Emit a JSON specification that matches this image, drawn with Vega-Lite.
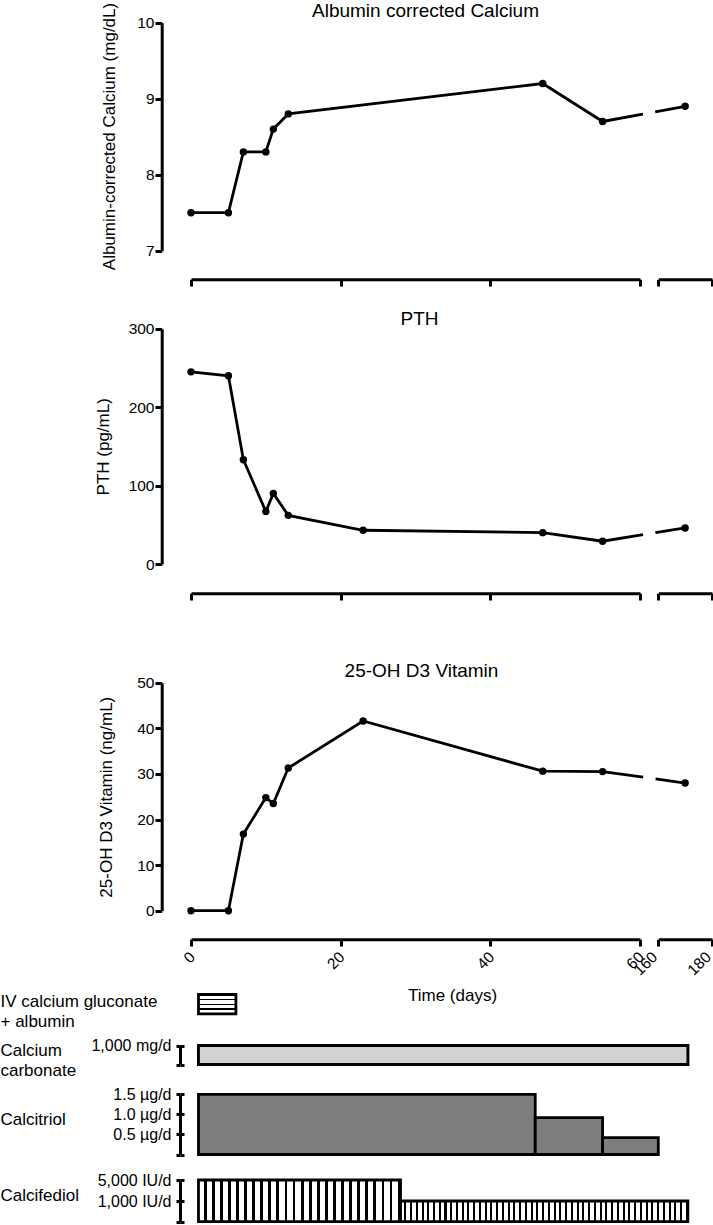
{
  "$schema": "https://vega.github.io/schema/vega-lite/v6.json",
  "width": 713,
  "height": 1225,
  "autosize": {"type": "none"},
  "padding": 0,
  "config": {
    "font": "Liberation Sans",
    "view": {"stroke": null},
    "axis": {
      "domainColor": "#000", "domainWidth": 3, "tickColor": "#000", "tickWidth": 3,
      "labelColor": "#000", "labelFontSize": 15.5, "titleColor": "#000", "titleFontWeight": "normal",
      "titleFontSize": 17, "grid": false, "labelOverlap": false, "labelFlush": false
    }
  },
  "datasets": {
    "ca": [
      {"day": 0, "value": 7.5}, {"day": 5, "value": 7.5}, {"day": 7, "value": 8.3}, {"day": 10, "value": 8.3},
      {"day": 11, "value": 8.6}, {"day": 13, "value": 8.8}, {"day": 47, "value": 9.2}, {"day": 55, "value": 8.7},
      {"day": 170, "value": 8.9}
    ],
    "pth": [
      {"day": 0, "value": 245}, {"day": 5, "value": 240}, {"day": 7, "value": 133}, {"day": 10, "value": 67},
      {"day": 11, "value": 90}, {"day": 13, "value": 62}, {"day": 23, "value": 43}, {"day": 47, "value": 40},
      {"day": 55, "value": 29}, {"day": 170, "value": 46}
    ],
    "vitd": [
      {"day": 0, "value": 0}, {"day": 5, "value": 0}, {"day": 7, "value": 16.8}, {"day": 10, "value": 24.8},
      {"day": 11, "value": 23.5}, {"day": 13, "value": 31.3}, {"day": 23, "value": 41.6}, {"day": 47, "value": 30.6},
      {"day": 55, "value": 30.5}, {"day": 170, "value": 28}
    ],
    "tx": [
      {"drug": "IV calcium gluconate + albumin", "dose": "", "start": 1, "end": 6, "level": 1},
      {"drug": "Calcium carbonate", "dose": "1,000 mg/d", "start": 1, "end": 171, "level": 1000},
      {"drug": "Calcitriol", "dose": "1.5 µg/d", "start": 1, "end": 46, "level": 1.5},
      {"drug": "Calcitriol", "dose": "1.0 µg/d", "start": 46, "end": 55, "level": 0.92},
      {"drug": "Calcitriol", "dose": "0.5 µg/d", "start": 55, "end": 160, "level": 0.42},
      {"drug": "Calcifediol", "dose": "5,000 IU/d", "start": 1, "end": 28, "level": 5000},
      {"drug": "Calcifediol", "dose": "1,000 IU/d", "start": 28, "end": 171, "level": 1000}
    ]
  },
  "layer": [
    {
      "data": {"name": "ca"},
      "encoding": {
        "y": {"field": "value", "type": "quantitative",
          "scale": {"domain": [7, 10], "range": [250.7, 22.7], "zero": false, "nice": false},
          "axis": {"orient": "left", "offset": -161.7, "values": [7, 8, 9, 10], "tickSize": 6.7, "labelPadding": 1,
            "title": "Albumin-corrected Calcium (mg/dL)", "titleAngle": -90, "titleX": -52.7, "titleY": 136,
            "titleAlign": "center", "titleBaseline": "middle"}}
      },
      "layer": [
        {"transform": [{"filter": "datum.day <= 55"}],
          "mark": {"type": "line", "color": "#000", "strokeWidth": 2.8},
          "encoding": {"x": {"field": "day", "type": "quantitative", "scale": {"domain": [0, 60, 160, 180], "range": [191, 640, 658.3, 712], "zero": false, "nice": false}, "axis": null}}},
        {"transform": [{"filter": "datum.day >= 55"}],
          "mark": {"type": "line", "color": "#000", "strokeWidth": 2.8, "strokeDash": [41, 12.5]},
          "encoding": {"x": {"field": "day", "type": "quantitative", "scale": {"domain": [0, 60, 160, 180], "range": [191, 640, 658.3, 712], "zero": false, "nice": false}, "axis": null}}},
        {"transform": [{"filter": "datum.day <= 60"}],
          "mark": {"type": "point", "filled": true, "color": "#000", "size": 55, "opacity": 1},
          "encoding": {"x": {"field": "day", "type": "quantitative", "scale": {"domain": [0, 60], "range": [191, 640], "zero": false, "nice": false},
            "axis": {"orient": "bottom", "offset": -945.7, "values": [0, 20, 40, 60], "tickSize": 6.7, "labels": false, "title": null}}}},
        {"transform": [{"filter": "datum.day >= 160"}],
          "mark": {"type": "point", "filled": true, "color": "#000", "size": 55, "opacity": 1},
          "encoding": {"x": {"field": "day", "type": "quantitative", "scale": {"domain": [160, 180], "range": [658.3, 712], "zero": false, "nice": false},
            "axis": {"orient": "bottom", "offset": -945.7, "values": [160, 180], "tickSize": 6.7, "labels": false,
              "title": "Albumin corrected Calcium", "titleX": 425, "titleY": -268.5, "titleFontSize": 19, "titleAlign": "center", "titleBaseline": "middle"}}}}
      ],
      "resolve": {"scale": {"x": "independent"}}
    },
    {
      "data": {"name": "pth"},
      "encoding": {
        "y": {"field": "value", "type": "quantitative",
          "scale": {"domain": [0, 300], "range": [564, 328.7], "zero": false, "nice": false},
          "axis": {"orient": "left", "offset": -161.7, "values": [0, 100, 200, 300], "tickSize": 6.7, "labelPadding": 1,
            "title": "PTH (pg/mL)", "titleAngle": -90, "titleX": -58.7, "titleY": 446.3,
            "titleAlign": "center", "titleBaseline": "middle"}}
      },
      "layer": [
        {"transform": [{"filter": "datum.day <= 55"}],
          "mark": {"type": "line", "color": "#000", "strokeWidth": 2.8},
          "encoding": {"x": {"field": "day", "type": "quantitative", "scale": {"domain": [0, 60, 160, 180], "range": [191, 640, 658.3, 712], "zero": false, "nice": false}, "axis": null}}},
        {"transform": [{"filter": "datum.day >= 55"}],
          "mark": {"type": "line", "color": "#000", "strokeWidth": 2.8, "strokeDash": [41, 12.5]},
          "encoding": {"x": {"field": "day", "type": "quantitative", "scale": {"domain": [0, 60, 160, 180], "range": [191, 640, 658.3, 712], "zero": false, "nice": false}, "axis": null}}},
        {"transform": [{"filter": "datum.day <= 60"}],
          "mark": {"type": "point", "filled": true, "color": "#000", "size": 55, "opacity": 1},
          "encoding": {"x": {"field": "day", "type": "quantitative", "scale": {"domain": [0, 60], "range": [191, 640], "zero": false, "nice": false},
            "axis": {"orient": "bottom", "offset": -631.7, "values": [0, 20, 40, 60], "tickSize": 6.7, "labels": false, "title": null}}}},
        {"transform": [{"filter": "datum.day >= 160"}],
          "mark": {"type": "point", "filled": true, "color": "#000", "size": 55, "opacity": 1},
          "encoding": {"x": {"field": "day", "type": "quantitative", "scale": {"domain": [160, 180], "range": [658.3, 712], "zero": false, "nice": false},
            "axis": {"orient": "bottom", "offset": -631.7, "values": [160, 180], "tickSize": 6.7, "labels": false,
              "title": "PTH", "titleX": 419, "titleY": -275, "titleFontSize": 19, "titleAlign": "center", "titleBaseline": "middle"}}}}
      ],
      "resolve": {"scale": {"x": "independent"}}
    },
    {
      "data": {"name": "vitd"},
      "encoding": {
        "y": {"field": "value", "type": "quantitative",
          "scale": {"domain": [0, 50], "range": [910.7, 682.7], "zero": false, "nice": false},
          "axis": {"orient": "left", "offset": -161.7, "values": [0, 10, 20, 30, 40, 50], "tickSize": 6.7, "labelPadding": 1,
            "title": "25-OH D3 Vitamin  (ng/mL)", "titleAngle": -90, "titleX": -55.7, "titleY": 796.7,
            "titleAlign": "center", "titleBaseline": "middle"}}
      },
      "layer": [
        {"transform": [{"filter": "datum.day <= 55"}],
          "mark": {"type": "line", "color": "#000", "strokeWidth": 2.8},
          "encoding": {"x": {"field": "day", "type": "quantitative", "scale": {"domain": [0, 60, 160, 180], "range": [191, 640, 658.3, 712], "zero": false, "nice": false}, "axis": null}}},
        {"transform": [{"filter": "datum.day >= 55"}],
          "mark": {"type": "line", "color": "#000", "strokeWidth": 2.8, "strokeDash": [41, 12.5]},
          "encoding": {"x": {"field": "day", "type": "quantitative", "scale": {"domain": [0, 60, 160, 180], "range": [191, 640, 658.3, 712], "zero": false, "nice": false}, "axis": null}}},
        {"transform": [{"filter": "datum.day <= 60"}],
          "mark": {"type": "point", "filled": true, "color": "#000", "size": 55, "opacity": 1},
          "encoding": {"x": {"field": "day", "type": "quantitative", "scale": {"domain": [0, 60], "range": [191, 640], "zero": false, "nice": false},
            "axis": {"orient": "bottom", "offset": -285.7, "values": [0, 20, 40, 60], "tickSize": 6.7, "labels": true,
              "labelAngle": -45, "labelAlign": "right", "labelBaseline": "middle", "labelPadding": 8, "labelOffset": 1, "labelFontSize": 15.5,
              "title": "Time (days)", "titleX": 452, "titleY": 56.4, "titleFontSize": 17, "titleAlign": "center", "titleBaseline": "middle"}}}},
        {"transform": [{"filter": "datum.day >= 160"}],
          "mark": {"type": "point", "filled": true, "color": "#000", "size": 55, "opacity": 1},
          "encoding": {"x": {"field": "day", "type": "quantitative", "scale": {"domain": [160, 180], "range": [658.3, 712], "zero": false, "nice": false},
            "axis": {"orient": "bottom", "offset": -285.7, "values": [160, 180], "tickSize": 6.7, "labels": true,
              "labelAngle": -45, "labelAlign": "right", "labelBaseline": "middle", "labelPadding": 8, "labelOffset": -4, "labelFontSize": 15.5,
              "title": "25-OH D3 Vitamin", "titleX": 421, "titleY": -269.3, "titleFontSize": 19, "titleAlign": "center", "titleBaseline": "middle"}}}}
      ],
      "resolve": {"scale": {"x": "independent"}}
    },
    {
      "data": {"name": "tx"},
      "transform": [{"filter": "datum.drug == 'IV calcium gluconate + albumin'"}],
      "mark": {"type": "rect", "stroke": "#000", "strokeWidth": 2.8,
        "fill": {"gradient": "linear", "x1": 0, "y1": 0, "x2": 0, "y2": 1, "stops": [
          {"offset": 0, "color": "#fff"}, {"offset": 0.22, "color": "#fff"}, {"offset": 0.22, "color": "#000"}, {"offset": 0.3, "color": "#000"},
          {"offset": 0.3, "color": "#fff"}, {"offset": 0.47, "color": "#fff"}, {"offset": 0.47, "color": "#000"}, {"offset": 0.55, "color": "#000"},
          {"offset": 0.55, "color": "#fff"}, {"offset": 0.72, "color": "#fff"}, {"offset": 0.72, "color": "#000"}, {"offset": 0.8, "color": "#000"},
          {"offset": 0.8, "color": "#fff"}, {"offset": 1, "color": "#fff"}]}},
      "encoding": {
        "x": {"field": "start", "type": "quantitative", "scale": {"domain": [0, 60, 160, 180], "range": [191, 640, 658.3, 712], "zero": false, "nice": false}, "axis": null},
        "x2": {"field": "end"},
        "y": {"field": "level", "type": "quantitative", "scale": {"domain": [0, 1], "range": [1013.8, 994.5], "zero": false, "nice": false},
          "axis": {"orient": "left", "offset": -180, "domain": false, "ticks": false, "labels": false,
            "title": ["IV calcium gluconate", "+ albumin"], "titleAngle": 0, "titleAlign": "left", "titleBaseline": "middle",
            "titleX": -180, "titleY": 1001.7, "titleLineHeight": 20}},
        "y2": {"datum": 0}
      }
    },
    {
      "data": {"name": "tx"},
      "transform": [{"filter": "datum.drug == 'Calcium carbonate'"}],
      "encoding": {
        "x": {"field": "start", "type": "quantitative", "scale": {"domain": [0, 60, 160, 180], "range": [191, 640, 658.3, 712], "zero": false, "nice": false}, "axis": null},
        "x2": {"field": "end"},
        "y2": {"datum": 0}
      },
      "layer": [
        {
          "mark": {"type": "rect", "stroke": "#000", "strokeWidth": 2.8, "fill": "#d2d2d2"},
          "encoding": {
            "y": {"field": "level", "type": "quantitative", "scale": {"domain": [0, 1000], "range": [1064.5, 1045.5], "zero": false, "nice": false},
              "axis": {"orient": "left", "offset": -180, "values": [0, 1000], "tickSize": 4, "labelPadding": 5, "labelFontSize": 16,
                "labelExpr": "datum.value == 0 ? '' : format(datum.value, ',') + ' mg/d'",
                "title": ["Calcium", "carbonate"], "titleAngle": 0, "titleAlign": "left", "titleBaseline": "middle",
                "titleX": -180, "titleY": 1050.5, "titleLineHeight": 20}}
          }
        },
        {
          "mark": {"type": "rect", "stroke": "#000", "strokeWidth": 2.8, "fill": "#d2d2d2"},
          "encoding": {
            "y": {"field": "level", "type": "quantitative", "scale": {"domain": [0, 1000], "range": [1064.5, 1045.5], "zero": false, "nice": false},
              "axis": {"orient": "right", "offset": -533, "values": [0, 1000], "tickSize": 4, "domain": false, "labels": false, "title": null}}
          }
        }
      ],
      "resolve": {"axis": {"y": "independent"}}
    },
    {
      "data": {"name": "tx"},
      "transform": [{"filter": "datum.drug == 'Calcitriol'"}],
      "encoding": {
        "x": {"field": "start", "type": "quantitative", "scale": {"domain": [0, 60, 160, 180], "range": [191, 640, 658.3, 712], "zero": false, "nice": false}, "axis": null},
        "x2": {"field": "end"},
        "y2": {"datum": 0}
      },
      "layer": [
        {
          "transform": [{"filter": "datum.level >= 1.5"}],
          "mark": {"type": "rect", "stroke": "#000", "strokeWidth": 2.8, "fill": "#7d7d7d"},
          "encoding": {
            "y": {"field": "level", "type": "quantitative", "scale": {"domain": [0, 1.5], "range": [1154.5, 1094.3], "zero": false, "nice": false},
              "axis": {"orient": "left", "offset": -180, "values": [0, 0.5, 1, 1.5], "tickSize": 4, "labelPadding": 5, "labelFontSize": 16,
                "labelExpr": "datum.value == 0 ? '' : format(datum.value, '.1f') + ' µg/d'",
                "title": "Calcitriol", "titleAngle": 0, "titleAlign": "left", "titleBaseline": "middle",
                "titleX": -180, "titleY": 1119.3}}
          }
        },
        {
          "transform": [{"filter": "datum.level < 1.5"}],
          "mark": {"type": "rect", "stroke": "#000", "strokeWidth": 2.8, "fill": "#7d7d7d"},
          "encoding": {
            "y": {"field": "level", "type": "quantitative", "scale": {"domain": [0, 1.5], "range": [1154.5, 1094.3], "zero": false, "nice": false},
              "axis": {"orient": "right", "offset": -533, "values": [0, 0.5, 1, 1.5], "tickSize": 4, "domain": false, "labels": false, "title": null}}
          }
        }
      ],
      "resolve": {"axis": {"y": "independent"}}
    },
    {
      "data": {"name": "tx"},
      "transform": [{"filter": "datum.drug == 'Calcifediol'"}],
      "encoding": {
        "x": {"field": "start", "type": "quantitative", "scale": {"domain": [0, 60, 160, 180], "range": [191, 640, 658.3, 712], "zero": false, "nice": false}, "axis": null},
        "x2": {"field": "end"},
        "y2": {"datum": 0}
      },
      "layer": [
        {
          "transform": [{"filter": "datum.level == 5000"}],
          "mark": {"type": "rect", "stroke": "#000", "strokeWidth": 2.8,
            "fill": {"gradient": "linear", "x1": 0, "y1": 0, "x2": 1, "y2": 0, "stops": [
              {"offset": 0, "color": "#fff"}, {"offset": 0.026, "color": "#fff"}, {"offset": 0.026, "color": "#000"}, {"offset": 0.04, "color": "#000"},
              {"offset": 0.04, "color": "#fff"}, {"offset": 0.066, "color": "#fff"}, {"offset": 0.066, "color": "#000"}, {"offset": 0.08, "color": "#000"},
              {"offset": 0.08, "color": "#fff"}, {"offset": 0.106, "color": "#fff"}, {"offset": 0.106, "color": "#000"}, {"offset": 0.12, "color": "#000"},
              {"offset": 0.12, "color": "#fff"}, {"offset": 0.146, "color": "#fff"}, {"offset": 0.146, "color": "#000"}, {"offset": 0.16, "color": "#000"},
              {"offset": 0.16, "color": "#fff"}, {"offset": 0.186, "color": "#fff"}, {"offset": 0.186, "color": "#000"}, {"offset": 0.2, "color": "#000"},
              {"offset": 0.2, "color": "#fff"}, {"offset": 0.226, "color": "#fff"}, {"offset": 0.226, "color": "#000"}, {"offset": 0.24, "color": "#000"},
              {"offset": 0.24, "color": "#fff"}, {"offset": 0.266, "color": "#fff"}, {"offset": 0.266, "color": "#000"}, {"offset": 0.28, "color": "#000"},
              {"offset": 0.28, "color": "#fff"}, {"offset": 0.306, "color": "#fff"}, {"offset": 0.306, "color": "#000"}, {"offset": 0.32, "color": "#000"},
              {"offset": 0.32, "color": "#fff"}, {"offset": 0.346, "color": "#fff"}, {"offset": 0.346, "color": "#000"}, {"offset": 0.36, "color": "#000"},
              {"offset": 0.36, "color": "#fff"}, {"offset": 0.386, "color": "#fff"}, {"offset": 0.386, "color": "#000"}, {"offset": 0.4, "color": "#000"},
              {"offset": 0.4, "color": "#fff"}, {"offset": 0.426, "color": "#fff"}, {"offset": 0.426, "color": "#000"}, {"offset": 0.44, "color": "#000"},
              {"offset": 0.44, "color": "#fff"}, {"offset": 0.466, "color": "#fff"}, {"offset": 0.466, "color": "#000"}, {"offset": 0.48, "color": "#000"},
              {"offset": 0.48, "color": "#fff"}, {"offset": 0.506, "color": "#fff"}, {"offset": 0.506, "color": "#000"}, {"offset": 0.52, "color": "#000"},
              {"offset": 0.52, "color": "#fff"}, {"offset": 0.546, "color": "#fff"}, {"offset": 0.546, "color": "#000"}, {"offset": 0.56, "color": "#000"},
              {"offset": 0.56, "color": "#fff"}, {"offset": 0.586, "color": "#fff"}, {"offset": 0.586, "color": "#000"}, {"offset": 0.6, "color": "#000"},
              {"offset": 0.6, "color": "#fff"}, {"offset": 0.626, "color": "#fff"}, {"offset": 0.626, "color": "#000"}, {"offset": 0.64, "color": "#000"},
              {"offset": 0.64, "color": "#fff"}, {"offset": 0.666, "color": "#fff"}, {"offset": 0.666, "color": "#000"}, {"offset": 0.68, "color": "#000"},
              {"offset": 0.68, "color": "#fff"}, {"offset": 0.706, "color": "#fff"}, {"offset": 0.706, "color": "#000"}, {"offset": 0.72, "color": "#000"},
              {"offset": 0.72, "color": "#fff"}, {"offset": 0.746, "color": "#fff"}, {"offset": 0.746, "color": "#000"}, {"offset": 0.76, "color": "#000"},
              {"offset": 0.76, "color": "#fff"}, {"offset": 0.786, "color": "#fff"}, {"offset": 0.786, "color": "#000"}, {"offset": 0.8, "color": "#000"},
              {"offset": 0.8, "color": "#fff"}, {"offset": 0.826, "color": "#fff"}, {"offset": 0.826, "color": "#000"}, {"offset": 0.84, "color": "#000"},
              {"offset": 0.84, "color": "#fff"}, {"offset": 0.866, "color": "#fff"}, {"offset": 0.866, "color": "#000"}, {"offset": 0.88, "color": "#000"},
              {"offset": 0.88, "color": "#fff"}, {"offset": 0.906, "color": "#fff"}, {"offset": 0.906, "color": "#000"}, {"offset": 0.92, "color": "#000"},
              {"offset": 0.92, "color": "#fff"}, {"offset": 0.946, "color": "#fff"}, {"offset": 0.946, "color": "#000"}, {"offset": 0.96, "color": "#000"},
              {"offset": 0.96, "color": "#fff"}, {"offset": 0.986, "color": "#fff"}, {"offset": 0.986, "color": "#000"}, {"offset": 1, "color": "#000"}]}},
          "encoding": {
            "y": {"field": "level", "type": "quantitative", "scale": {"domain": [0, 1000, 5000], "range": [1221.7, 1201, 1180], "zero": false, "nice": false},
              "axis": {"orient": "left", "offset": -180, "values": [0, 1000, 5000], "tickSize": 4, "labelPadding": 5, "labelFontSize": 16,
                "labelExpr": "datum.value == 0 ? '' : format(datum.value, ',') + ' IU/d'",
                "title": "Calcifediol", "titleAngle": 0, "titleAlign": "left", "titleBaseline": "middle",
                "titleX": -180, "titleY": 1195.7}}
          }
        },
        {
          "transform": [{"filter": "datum.level == 1000"}],
          "mark": {"type": "rect", "stroke": "#000", "strokeWidth": 2.8,
            "fill": {"gradient": "linear", "x1": 0, "y1": 0, "x2": 1, "y2": 0, "stops": [
              {"offset": 0, "color": "#fff"}, {"offset": 0.013, "color": "#fff"}, {"offset": 0.013, "color": "#000"}, {"offset": 0.02, "color": "#000"},
              {"offset": 0.02, "color": "#fff"}, {"offset": 0.033, "color": "#fff"}, {"offset": 0.033, "color": "#000"}, {"offset": 0.04, "color": "#000"},
              {"offset": 0.04, "color": "#fff"}, {"offset": 0.053, "color": "#fff"}, {"offset": 0.053, "color": "#000"}, {"offset": 0.06, "color": "#000"},
              {"offset": 0.06, "color": "#fff"}, {"offset": 0.073, "color": "#fff"}, {"offset": 0.073, "color": "#000"}, {"offset": 0.08, "color": "#000"},
              {"offset": 0.08, "color": "#fff"}, {"offset": 0.093, "color": "#fff"}, {"offset": 0.093, "color": "#000"}, {"offset": 0.1, "color": "#000"},
              {"offset": 0.1, "color": "#fff"}, {"offset": 0.113, "color": "#fff"}, {"offset": 0.113, "color": "#000"}, {"offset": 0.12, "color": "#000"},
              {"offset": 0.12, "color": "#fff"}, {"offset": 0.133, "color": "#fff"}, {"offset": 0.133, "color": "#000"}, {"offset": 0.14, "color": "#000"},
              {"offset": 0.14, "color": "#fff"}, {"offset": 0.153, "color": "#fff"}, {"offset": 0.153, "color": "#000"}, {"offset": 0.16, "color": "#000"},
              {"offset": 0.16, "color": "#fff"}, {"offset": 0.173, "color": "#fff"}, {"offset": 0.173, "color": "#000"}, {"offset": 0.18, "color": "#000"},
              {"offset": 0.18, "color": "#fff"}, {"offset": 0.193, "color": "#fff"}, {"offset": 0.193, "color": "#000"}, {"offset": 0.2, "color": "#000"},
              {"offset": 0.2, "color": "#fff"}, {"offset": 0.213, "color": "#fff"}, {"offset": 0.213, "color": "#000"}, {"offset": 0.22, "color": "#000"},
              {"offset": 0.22, "color": "#fff"}, {"offset": 0.233, "color": "#fff"}, {"offset": 0.233, "color": "#000"}, {"offset": 0.24, "color": "#000"},
              {"offset": 0.24, "color": "#fff"}, {"offset": 0.253, "color": "#fff"}, {"offset": 0.253, "color": "#000"}, {"offset": 0.26, "color": "#000"},
              {"offset": 0.26, "color": "#fff"}, {"offset": 0.273, "color": "#fff"}, {"offset": 0.273, "color": "#000"}, {"offset": 0.28, "color": "#000"},
              {"offset": 0.28, "color": "#fff"}, {"offset": 0.293, "color": "#fff"}, {"offset": 0.293, "color": "#000"}, {"offset": 0.3, "color": "#000"},
              {"offset": 0.3, "color": "#fff"}, {"offset": 0.313, "color": "#fff"}, {"offset": 0.313, "color": "#000"}, {"offset": 0.32, "color": "#000"},
              {"offset": 0.32, "color": "#fff"}, {"offset": 0.333, "color": "#fff"}, {"offset": 0.333, "color": "#000"}, {"offset": 0.34, "color": "#000"},
              {"offset": 0.34, "color": "#fff"}, {"offset": 0.353, "color": "#fff"}, {"offset": 0.353, "color": "#000"}, {"offset": 0.36, "color": "#000"},
              {"offset": 0.36, "color": "#fff"}, {"offset": 0.373, "color": "#fff"}, {"offset": 0.373, "color": "#000"}, {"offset": 0.38, "color": "#000"},
              {"offset": 0.38, "color": "#fff"}, {"offset": 0.393, "color": "#fff"}, {"offset": 0.393, "color": "#000"}, {"offset": 0.4, "color": "#000"},
              {"offset": 0.4, "color": "#fff"}, {"offset": 0.413, "color": "#fff"}, {"offset": 0.413, "color": "#000"}, {"offset": 0.42, "color": "#000"},
              {"offset": 0.42, "color": "#fff"}, {"offset": 0.433, "color": "#fff"}, {"offset": 0.433, "color": "#000"}, {"offset": 0.44, "color": "#000"},
              {"offset": 0.44, "color": "#fff"}, {"offset": 0.453, "color": "#fff"}, {"offset": 0.453, "color": "#000"}, {"offset": 0.46, "color": "#000"},
              {"offset": 0.46, "color": "#fff"}, {"offset": 0.473, "color": "#fff"}, {"offset": 0.473, "color": "#000"}, {"offset": 0.48, "color": "#000"},
              {"offset": 0.48, "color": "#fff"}, {"offset": 0.493, "color": "#fff"}, {"offset": 0.493, "color": "#000"}, {"offset": 0.5, "color": "#000"},
              {"offset": 0.5, "color": "#fff"}, {"offset": 0.513, "color": "#fff"}, {"offset": 0.513, "color": "#000"}, {"offset": 0.52, "color": "#000"},
              {"offset": 0.52, "color": "#fff"}, {"offset": 0.533, "color": "#fff"}, {"offset": 0.533, "color": "#000"}, {"offset": 0.54, "color": "#000"},
              {"offset": 0.54, "color": "#fff"}, {"offset": 0.553, "color": "#fff"}, {"offset": 0.553, "color": "#000"}, {"offset": 0.56, "color": "#000"},
              {"offset": 0.56, "color": "#fff"}, {"offset": 0.573, "color": "#fff"}, {"offset": 0.573, "color": "#000"}, {"offset": 0.58, "color": "#000"},
              {"offset": 0.58, "color": "#fff"}, {"offset": 0.593, "color": "#fff"}, {"offset": 0.593, "color": "#000"}, {"offset": 0.6, "color": "#000"},
              {"offset": 0.6, "color": "#fff"}, {"offset": 0.613, "color": "#fff"}, {"offset": 0.613, "color": "#000"}, {"offset": 0.62, "color": "#000"},
              {"offset": 0.62, "color": "#fff"}, {"offset": 0.633, "color": "#fff"}, {"offset": 0.633, "color": "#000"}, {"offset": 0.64, "color": "#000"},
              {"offset": 0.64, "color": "#fff"}, {"offset": 0.653, "color": "#fff"}, {"offset": 0.653, "color": "#000"}, {"offset": 0.66, "color": "#000"},
              {"offset": 0.66, "color": "#fff"}, {"offset": 0.673, "color": "#fff"}, {"offset": 0.673, "color": "#000"}, {"offset": 0.68, "color": "#000"},
              {"offset": 0.68, "color": "#fff"}, {"offset": 0.693, "color": "#fff"}, {"offset": 0.693, "color": "#000"}, {"offset": 0.7, "color": "#000"},
              {"offset": 0.7, "color": "#fff"}, {"offset": 0.713, "color": "#fff"}, {"offset": 0.713, "color": "#000"}, {"offset": 0.72, "color": "#000"},
              {"offset": 0.72, "color": "#fff"}, {"offset": 0.733, "color": "#fff"}, {"offset": 0.733, "color": "#000"}, {"offset": 0.74, "color": "#000"},
              {"offset": 0.74, "color": "#fff"}, {"offset": 0.753, "color": "#fff"}, {"offset": 0.753, "color": "#000"}, {"offset": 0.76, "color": "#000"},
              {"offset": 0.76, "color": "#fff"}, {"offset": 0.773, "color": "#fff"}, {"offset": 0.773, "color": "#000"}, {"offset": 0.78, "color": "#000"},
              {"offset": 0.78, "color": "#fff"}, {"offset": 0.793, "color": "#fff"}, {"offset": 0.793, "color": "#000"}, {"offset": 0.8, "color": "#000"},
              {"offset": 0.8, "color": "#fff"}, {"offset": 0.813, "color": "#fff"}, {"offset": 0.813, "color": "#000"}, {"offset": 0.82, "color": "#000"},
              {"offset": 0.82, "color": "#fff"}, {"offset": 0.833, "color": "#fff"}, {"offset": 0.833, "color": "#000"}, {"offset": 0.84, "color": "#000"},
              {"offset": 0.84, "color": "#fff"}, {"offset": 0.853, "color": "#fff"}, {"offset": 0.853, "color": "#000"}, {"offset": 0.86, "color": "#000"},
              {"offset": 0.86, "color": "#fff"}, {"offset": 0.873, "color": "#fff"}, {"offset": 0.873, "color": "#000"}, {"offset": 0.88, "color": "#000"},
              {"offset": 0.88, "color": "#fff"}, {"offset": 0.893, "color": "#fff"}, {"offset": 0.893, "color": "#000"}, {"offset": 0.9, "color": "#000"},
              {"offset": 0.9, "color": "#fff"}, {"offset": 0.913, "color": "#fff"}, {"offset": 0.913, "color": "#000"}, {"offset": 0.92, "color": "#000"},
              {"offset": 0.92, "color": "#fff"}, {"offset": 0.933, "color": "#fff"}, {"offset": 0.933, "color": "#000"}, {"offset": 0.94, "color": "#000"},
              {"offset": 0.94, "color": "#fff"}, {"offset": 0.953, "color": "#fff"}, {"offset": 0.953, "color": "#000"}, {"offset": 0.96, "color": "#000"},
              {"offset": 0.96, "color": "#fff"}, {"offset": 0.973, "color": "#fff"}, {"offset": 0.973, "color": "#000"}, {"offset": 0.98, "color": "#000"},
              {"offset": 0.98, "color": "#fff"}, {"offset": 0.993, "color": "#fff"}, {"offset": 0.993, "color": "#000"}, {"offset": 1, "color": "#000"}]}},
          "encoding": {
            "y": {"field": "level", "type": "quantitative", "scale": {"domain": [0, 1000, 5000], "range": [1221.7, 1201, 1180], "zero": false, "nice": false},
              "axis": {"orient": "right", "offset": -533, "values": [0, 1000, 5000], "tickSize": 4, "domain": false, "labels": false, "title": null}}
          }
        }
      ],
      "resolve": {"axis": {"y": "independent"}}
    }
  ],
  "resolve": {"scale": {"x": "independent", "y": "independent"}}
}
